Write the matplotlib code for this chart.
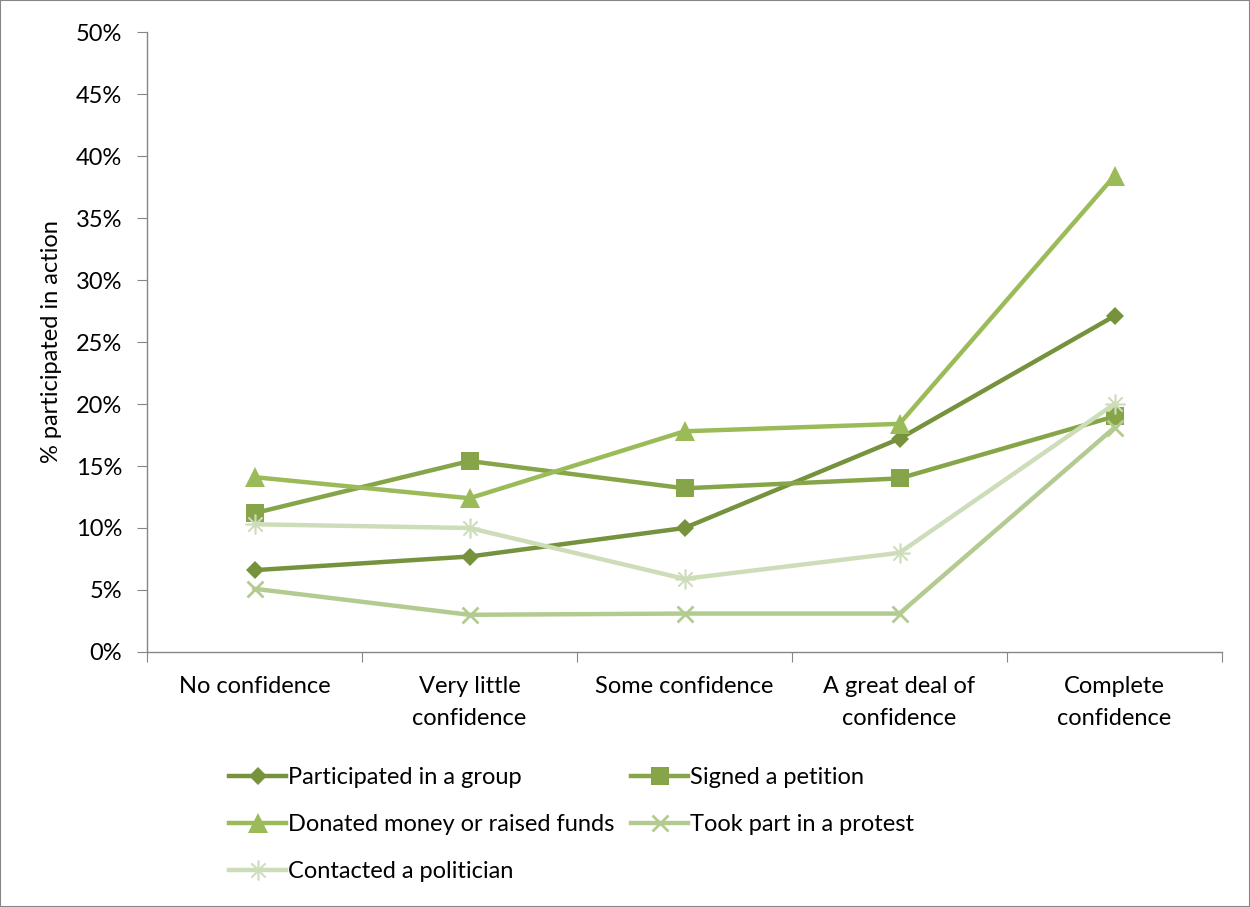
import matplotlib
matplotlib.use("Agg")
import matplotlib.pyplot as plt
from matplotlib.ticker import FixedLocator, NullFormatter, FuncFormatter

plt.rcParams['font.family'] = ['Lato', 'DejaVu Sans']

categories = ["No confidence", "Very little\nconfidence", "Some confidence",
              "A great deal of\nconfidence", "Complete\nconfidence"]
series_names = ["Participated in a group", "Signed a petition",
                "Donated money or raised funds", "Took part in a protest",
                "Contacted a politician"]
participated = [6.6, 7.7, 10.0, 17.2, 27.1]
petition = [11.2, 15.4, 13.2, 14.0, 19.0]
donated = [14.1, 12.4, 17.8, 18.4, 38.4]
protest = [5.1, 3.0, 3.1, 3.1, 18.1]
contacted = [10.3, 10.0, 5.9, 8.0, 20.0]
yticks = [0, 5, 10, 15, 20, 25, 30, 35, 40, 45, 50]

colors = ["#76923C", "#86A548", "#9BBB59", "#B3CA90", "#CEDDB9"]
markers = ["D", "s", "^", "x", "$\u2733$"]
msizes = [9.5, 13, 14, 12, 14]
FS = 17

W, H = 1250, 907
fig = plt.figure(figsize=(W / 100, H / 100), dpi=100)
ax = fig.add_axes([147 / W, 1 - 652 / H, (1222 - 147) / W, (652 - 32) / H])

xs = list(range(len(categories)))
data = [participated, petition, donated, protest, contacted]
handles = []
for name, vals, c, m, ms in zip(series_names, data, colors, markers, msizes):
    if m == "x":
        mew = 2
    elif m.startswith("$"):
        mew = 0.5
    else:
        mew = 0
    h, = ax.plot(xs, vals, color=c, lw=3.2, marker=m, markersize=ms,
                 markerfacecolor=c, markeredgecolor=c, markeredgewidth=mew,
                 label=name, solid_joinstyle='round')
    handles.append(h)

ax.set_xlim(-0.5, len(categories) - 0.5)
ax.set_ylim(0, 50)
ax.set_yticks(yticks)
ax.yaxis.set_major_formatter(FuncFormatter(lambda v, p: f"{int(v)}%"))
ax.xaxis.set_major_locator(FixedLocator([i - 0.5 for i in range(len(categories) + 1)]))
ax.xaxis.set_major_formatter(NullFormatter())
ax.xaxis.set_minor_locator(FixedLocator(xs))
ax.set_xticklabels(categories, minor=True, linespacing=1.65)
ax.tick_params(axis='x', which='minor', length=0, pad=17, labelsize=FS)
ax.tick_params(axis='x', which='major', length=7, direction='out', color='#868686')
ax.tick_params(axis='y', length=7, direction='out', color='#868686', labelsize=FS, pad=11)
for s in ['top', 'right']:
    ax.spines[s].set_visible(False)
for s in ['left', 'bottom']:
    ax.spines[s].set_color('#868686')
    ax.spines[s].set_linewidth(1)
ax.set_ylabel("% participated in action", fontsize=FS, labelpad=10)

order = [0, 2, 4, 1, 3]
fig.legend([handles[i] for i in order], [series_names[i] for i in order],
           loc='upper left', bbox_to_anchor=(220 / W, 1 - 758 / H), ncol=2,
           frameon=False, fontsize=FS, handlelength=2.4, handletextpad=0.1,
           columnspacing=0.7, labelspacing=1.1, borderaxespad=0)

border = plt.Rectangle((0, 0), 1, 1, transform=fig.transFigure, fill=False,
                       edgecolor='#868686', lw=1.5)
fig.patches.append(border)

fig.savefig("out.png", dpi=100, facecolor='white')
